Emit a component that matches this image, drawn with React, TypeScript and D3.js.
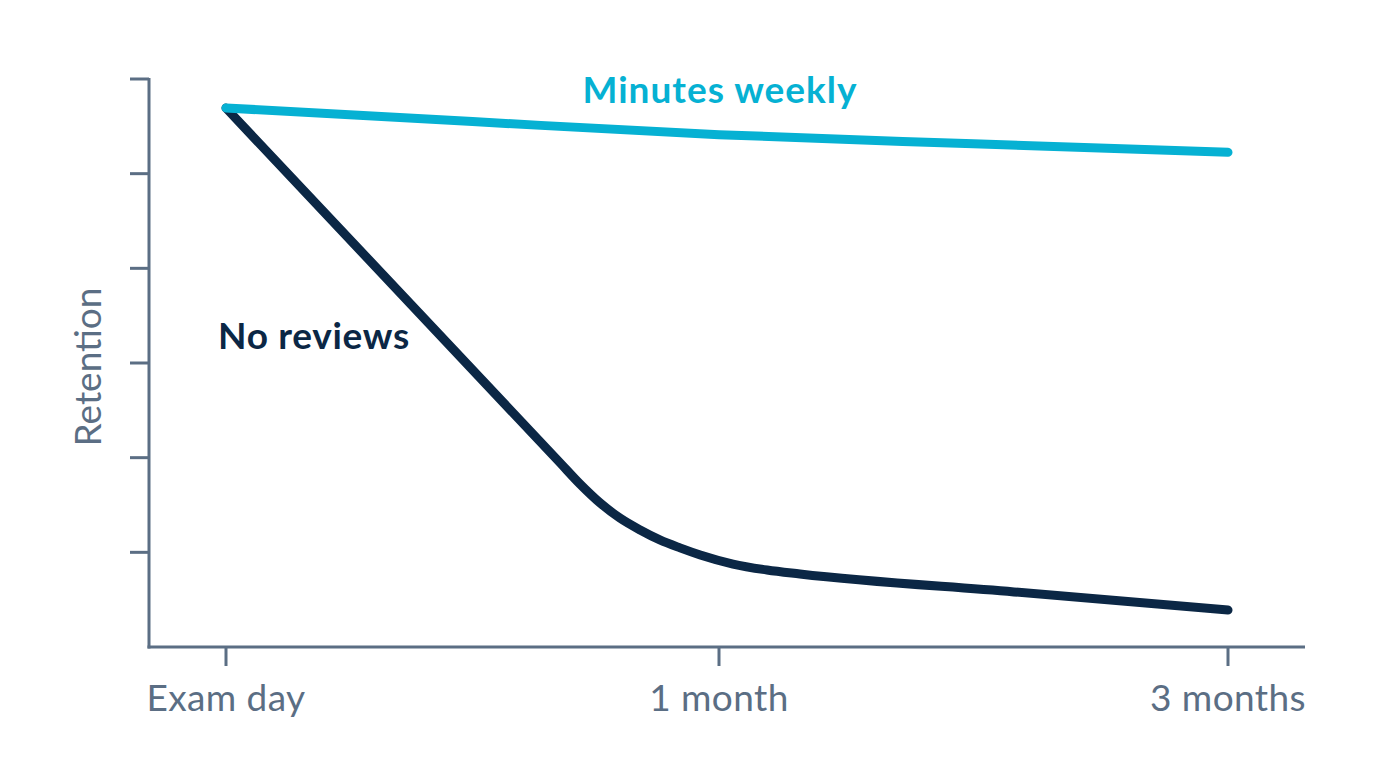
import { useEffect, useRef } from 'react';
import * as d3 from 'd3';

// x values are months after the exam
const xTickValues = [0, 1, 3];
const xTickLabels = ['Exam day', '1 month', '3 months'];
const yTickValues = [1, 2, 3, 4, 5, 6].map((i) => (i * 100) / 6);

const minutesMonths = [0, 0.5, 1, 2, 3];
const minutesRetention = [94.9, 92.5, 90.2, 88.6, 87.1];

const noReviewMonths = [0, 0.678, 0.718, 0.759, 0.799, 0.84, 0.88, 0.921, 0.962, 1.055, 1.189, 1.318, 2.159, 3];
const noReviewRetention = [94.9, 32.4, 28.7, 25.35, 22.7, 20.6, 18.85, 17.45, 16.2, 14.6, 13.55, 12.85, 9.7, 6.5];

const AXIS_COLOR = '#5b6e84';
const CYAN = '#06b1d3';
const NAVY = '#0b2745';
const FONT = 'Lato, "Open Sans", sans-serif';

export default function App() {
  const ref = useRef<SVGSVGElement>(null);

  useEffect(() => {
    document.body.style.margin = '0';
    const svgElement = ref.current;
    if (!svgElement) {
      return;
    }
    const svg = d3.select(svgElement);
    svg.selectAll('*').remove();

    const width = 1376;
    const height = 768;
    const left = 149;
    const bottom = 647;
    const top = 79;
    const right = 1305;

    svg.attr('viewBox', `0 0 ${width} ${height}`);

    const x = d3.scaleLinear().domain([0, 1, 3]).range([226, 719, 1228]);
    const y = d3.scaleLinear().domain([0, 100]).range([bottom, top]);

    // axes
    svg
      .append('line')
      .attr('x1', left)
      .attr('x2', left)
      .attr('y1', top - 1)
      .attr('y2', bottom + 1.5)
      .attr('stroke', AXIS_COLOR)
      .attr('stroke-width', 3);
    svg
      .append('line')
      .attr('x1', left - 1.5)
      .attr('x2', right)
      .attr('y1', bottom)
      .attr('y2', bottom)
      .attr('stroke', AXIS_COLOR)
      .attr('stroke-width', 3);

    svg
      .append('g')
      .selectAll('line')
      .data(yTickValues)
      .join('line')
      .attr('x1', left - 19)
      .attr('x2', left)
      .attr('y1', (d) => y(d))
      .attr('y2', (d) => y(d))
      .attr('stroke', AXIS_COLOR)
      .attr('stroke-width', 3);

    svg
      .append('g')
      .selectAll('line')
      .data(xTickValues)
      .join('line')
      .attr('x1', (d) => x(d))
      .attr('x2', (d) => x(d))
      .attr('y1', bottom)
      .attr('y2', bottom + 19)
      .attr('stroke', AXIS_COLOR)
      .attr('stroke-width', 3);

    svg
      .append('g')
      .selectAll('text')
      .data(xTickValues)
      .join('text')
      .attr('x', (d) => x(d))
      .attr('y', 711)
      .attr('text-anchor', 'middle')
      .attr('font-family', FONT)
      .attr('font-size', 37)
      .attr('letter-spacing', 0.4)
      .attr('fill', AXIS_COLOR)
      .text((_d, i) => xTickLabels[i]);

    svg
      .append('text')
      .attr('transform', `translate(101,367) rotate(-90)`)
      .attr('text-anchor', 'middle')
      .attr('font-family', FONT)
      .attr('font-size', 37)
      .attr('fill', AXIS_COLOR)
      .text('Retention');

    const line = d3
      .line<[number, number]>()
      .x((d) => x(d[0]))
      .y((d) => y(d[1]))
      .curve(d3.curveMonotoneX);

    const noReview = noReviewMonths.map((m, i) => [m, noReviewRetention[i]] as [number, number]);
    const minutes = minutesMonths.map((m, i) => [m, minutesRetention[i]] as [number, number]);

    svg
      .append('path')
      .datum(noReview)
      .attr('d', line)
      .attr('fill', 'none')
      .attr('stroke', NAVY)
      .attr('stroke-width', 9)
      .attr('stroke-linecap', 'round')
      .attr('stroke-linejoin', 'round');

    svg
      .append('path')
      .datum(minutes)
      .attr('d', line)
      .attr('fill', 'none')
      .attr('stroke', CYAN)
      .attr('stroke-width', 9)
      .attr('stroke-linecap', 'round')
      .attr('stroke-linejoin', 'round');

    svg
      .append('text')
      .attr('x', 720)
      .attr('y', 103)
      .attr('text-anchor', 'middle')
      .attr('font-family', FONT)
      .attr('font-weight', 700)
      .attr('font-size', 37)
      .attr('letter-spacing', 1)
      .attr('fill', CYAN)
      .text('Minutes weekly');

    svg
      .append('text')
      .attr('x', 218)
      .attr('y', 349)
      .attr('font-family', FONT)
      .attr('font-weight', 700)
      .attr('font-size', 37)
      .attr('letter-spacing', 0.7)
      .attr('fill', NAVY)
      .text('No reviews');
  }, []);

  return <svg ref={ref} width={1376} height={768} style={{ display: 'block' }} />;
}
